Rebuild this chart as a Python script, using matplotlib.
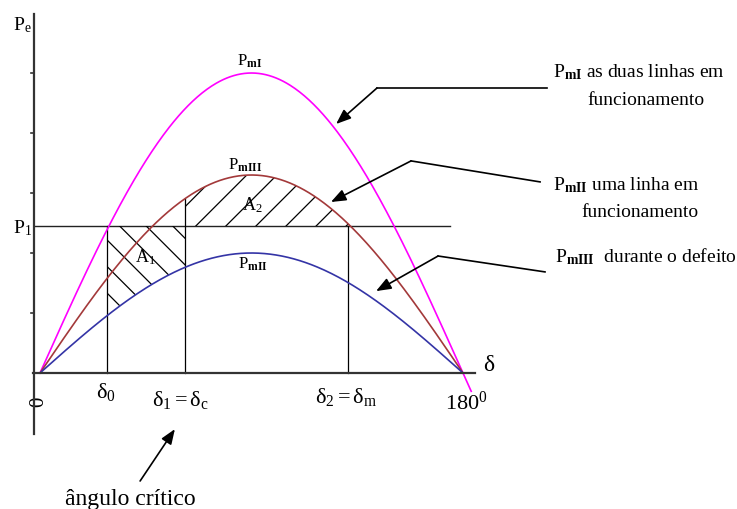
import numpy as np
import matplotlib
matplotlib.use("Agg")
import matplotlib.pyplot as plt
from matplotlib.patches import Polygon

plt.rcParams['font.family'] = ['Liberation Serif', 'DejaVu Serif']
plt.rcParams['mathtext.fontset'] = 'custom'
plt.rcParams['mathtext.rm'] = 'Liberation Serif'
plt.rcParams['mathtext.it'] = 'Liberation Serif:italic'
plt.rcParams['mathtext.bf'] = 'Liberation Serif:bold'

# peak powers of the three power-angle curves (per unit of PmI)
pm_I = 1.0      # both lines in service
pm_III = 0.66   # one line in service
pm_II = 0.40    # during the fault
p1 = 0.49       # mechanical power

# angles (degrees)
delta_0 = 28.5
delta_1 = 61.7
delta_2 = 130.9
y_ticks = [0.2, 0.4, 0.6, 0.8, 1.0]

C_I = '#ff00ff'
C_III = '#a3393a'
C_II = '#3434a6'
AX = '#333333'

fig = plt.figure(figsize=(7.37, 5.10), dpi=100)
ax = fig.add_axes([0, 0, 1, 1])
ax.set_xlim(-17.02, 296.6)
ax.set_ylim(-0.4533, 1.2467)
ax.axis('off')

d = np.linspace(0, 180, 361)
d_ext = np.linspace(0, 183.5, 368)
ax.plot(d_ext, pm_I * np.sin(np.radians(d_ext)), color=C_I, lw=1.2, zorder=3)
ax.plot(d, pm_III * np.sin(np.radians(d)), color=C_III, lw=1.2, zorder=3)
ax.plot(d, pm_II * np.sin(np.radians(d)), color=C_II, lw=1.2, zorder=3)

# axes
ax.plot([-2.6, -2.6], [-0.203, 1.197], color=AX, lw=1.6, zorder=4)
ax.plot([-3.0, 185.0], [0, 0], color=AX, lw=1.6, zorder=4)
for t in y_ticks:
    ax.plot([-3.9, -2.6], [t, t], color=AX, lw=1.2)

# P1 line and the angle markers
ax.plot([-2.6, 174.5], [p1, p1], color='#222222', lw=1.0)
ax.plot([delta_0, delta_0], [0, p1], color='black', lw=0.9)
ax.plot([delta_1, delta_1], [0, pm_III * np.sin(np.radians(delta_1))], color='black', lw=0.9)
ax.plot([delta_2, delta_2], [0, p1], color='black', lw=0.9)

# hatched areas A1 (accelerating) and A2 (decelerating)
kx = 300 / 2.35  # y-units per degree for a 45 degree line on screen
dd1 = np.linspace(delta_0, delta_1, 60)
a1 = np.column_stack([np.r_[dd1, dd1[::-1]],
                      np.r_[np.full(dd1.size, p1), pm_II * np.sin(np.radians(dd1[::-1]))]])
dd2 = np.linspace(delta_1, 180 - np.degrees(np.arcsin(p1 / pm_III)), 80)
a2 = np.column_stack([np.r_[dd2, dd2[::-1]],
                      np.r_[pm_III * np.sin(np.radians(dd2)), np.full(dd2.size, p1)]])
clip1 = Polygon(a1, closed=True, fill=False, lw=0)
clip2 = Polygon(a2, closed=True, fill=False, lw=0)
ax.add_patch(clip1)
ax.add_patch(clip2)

xs = np.array([-20.0, 200.0])
for c in np.arange(0.0, 80.0, 11.3):
    ln, = ax.plot(xs, p1 - (xs - c) / kx, color='black', lw=0.9)
    ln.set_clip_path(clip1)
for c in np.arange(53.5, 135.0, 12.8):
    ln, = ax.plot(xs, p1 + (xs - c) / kx, color='black', lw=0.9)
    ln.set_clip_path(clip2)

# labels on the chart
ax.text(-11.5, 1.147, r'$\mathrm{P_e}$', fontsize=14)
ax.text(-11.5, 0.47, r'$\mathrm{P_1}$', fontsize=14)
ax.text(83.8, 1.027, r'$\mathrm{P}_{\mathbf{mI}}$', fontsize=12)
ax.text(80.0, 0.68, r'$\mathrm{P}_{\mathbf{mIII}}$', fontsize=12)
ax.text(86.0, 0.547, r'$\mathrm{A_2}$', fontsize=13)
ax.text(40.4, 0.373, r'$\mathrm{A_1}$', fontsize=13)
ax.text(84.3, 0.353, r'$\mathrm{P}_{\mathbf{mII}}$', fontsize=12)
ax.text(188.5, 0.01, r'$\mathrm{δ}$', fontsize=17)
ax.text(23.8, -0.08, r'$\mathrm{δ_0}$', fontsize=16)
ax.text(47.7, -0.107, r'$\mathrm{δ_1 = δ_c}$', fontsize=16)
ax.text(117.0, -0.097, r'$\mathrm{δ_2 = δ_m}$', fontsize=16)
ax.text(172.3, -0.12, r'$\mathrm{180^0}$', fontsize=16)
ax.text(-0.6, -0.093, '0', fontsize=15, rotation=90, ha='center', va='center')
ax.text(10.6, -0.437, 'ângulo crítico', fontsize=17)

arrow = dict(arrowstyle='-|>,head_length=0.9,head_width=0.35', color='black', lw=1.2,
             shrinkA=0, shrinkB=0)
ax.annotate('', xy=(57.4, -0.187), xytext=(42.6, -0.36), arrowprops=arrow)

# side notes with leader lines
ax.text(218.3, 0.99, r'$\mathrm{P}_{\mathbf{mI}}$ as duas linhas em', fontsize=14)
ax.text(232.8, 0.897, 'funcionamento', fontsize=14)
ax.text(218.3, 0.613, r'$\mathrm{P}_{\mathbf{mII}}$ uma linha em', fontsize=14)
ax.text(230.6, 0.523, 'funcionamento', fontsize=14)
ax.text(219.1, 0.373, r'$\mathrm{P}_{\mathbf{mIII}}$  durante o defeito', fontsize=14)

leaders = [([215.7, 143.4], [0.95, 0.95], (126.0, 0.83)),
           ([212.8, 157.9], [0.637, 0.707], (123.8, 0.57)),
           ([214.9, 169.4], [0.337, 0.39], (143.0, 0.273))]
for lx, ly, tip in leaders:
    ax.plot(lx, ly, color='black', lw=1.2)
    ax.annotate('', xy=tip, xytext=(lx[1], ly[1]), arrowprops=arrow)

fig.savefig('out.png', dpi=100)
